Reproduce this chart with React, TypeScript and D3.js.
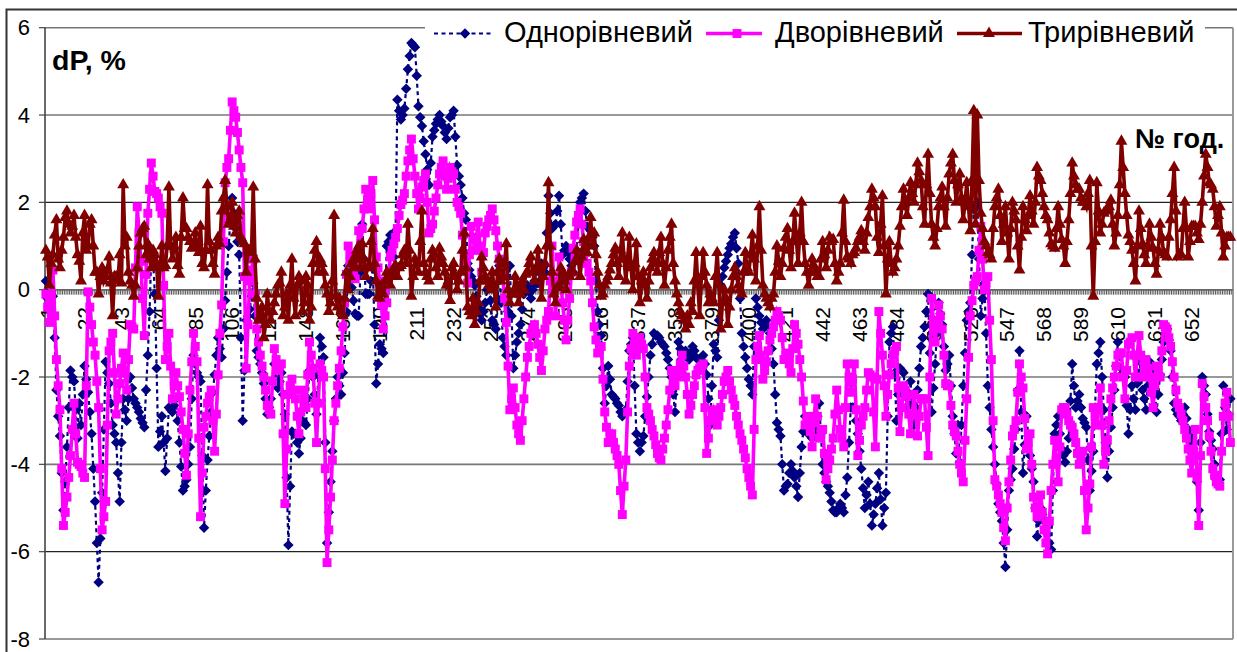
import React from "react";
import * as d3 from "d3";

const WIDTH = 1237;
const HEIGHT = 652;

const hours = d3.range(1, 677);
const tickHours = d3.range(1, 653, 21);
const yTicks = [6, 4, 2, 0, -2, -4, -6, -8];

// readings at hours 1, 3, 5 ...
const oneLevelOdd = [
  0.2, -0.35, -0.15, -2.3, -3.35, -5.05, -3.6, -1.85, -2.1, -3.4,
  -3.1, -1.75, -2.35, -3.3, -4.85, -6.7, -4.65, -1.65, -2.15, -3.1,
  -3.5, -4.85, -2.5, -3, -2, -2.5, -2.7, -2.95, -3.15, -1.5,
  0.9, -0.1, -3.6, -2.9, -4.15, -2.7, -2.8, -2.5, -3.5, -4.6,
  -4.35, -3.6, -1.5, -1.9, -2.1, -5.45, -3.9, -2.8, -1.95, -1.1,
  -1.55, -0.25, 1.0, 2.1, 1.4, 0.8, -3.0, -0.7, -0.45, 0.15,
  -1.4, -1.7, -2.15, -2.85, -2.5, -1.7, -2.25, -1.9, -2.85, -5.85,
  -3.25, -3.3, -3.75, -3, -3.1, -1.85, -2, -2.85, -1.1, -1.55,
  -5.8, -4.4, -3, -2, -2.4, -1.45, 0.55, 0.05, -0.55, -0.6,
  1.5, -0.1, -0.1, 0.5, -2.15, -1.25, -1.45, 1.0, 1.25, 0.75,
  4.35, 3.9, 4.15, 5.05, 5.65, 5.55, 4.2, 3.75, 3.1, 2.4,
  3.5, 3.8, 4, 3.75, 3.45, 3.95, 4.1, 2.85, 2.4, 1.75,
  0.6, 0.3, 0.1, -0.4, -0.7, -0.3, 0.2, -0.7, -0.9, 0.55,
  -1.1, -1.5, 0.55, -1.8, -1.2, -0.8, -0.1, 0.1, -0.2, 0.2,
  0.15, 0.6, 0.4, 2.15, 1.4, 1.5, 2.15, 0.8, 1.0, 0.7,
  0.4, 0.9, 2.0, 2.2, 1.45, 1.35, 1.0, -0.5, -1.05, -2.6,
  -1.75, -2.4, -2.5, -2.65, -2.9, -2.75, -1.4, -1.1, -3.3, -3.7,
  -3.35, -2.45, -1.5, -1, -1.05, -1.2, -1.3, -1.6, -2, -2.8,
  -1.2, -1.5, -1.4, -1.6, -1.3, -1.55, -1.6, -1.5, -1.95, -3.1,
  -1.25, -1.55, 0.1, 0.5, 0.8, 1.05, 1.3, 0.6, -1, -1.55,
  -2.05, -2.4, -0.2, -0.6, -0.9, -0.7, -1, -1.7, -3.05, -3.35,
  -4.6, -4.45, -4, -4.3, -4.75, -3.6, -2.9, -3.3, -3.4, -3.2,
  -2.6, -4.0, -4.4, -4.65, -5.05, -5.1, -4.9, -5.1, -4.3, -2.7,
  -2.7, -3.3, -4.1, -5, -4.4, -5.4, -4.9, -4.2, -5.4, -4.65,
  -1.2, -0.85, -3, -1.8, -1.9, -2.7, -2.1, -3.1, -2.3, -1.3,
  -0.85, -0.1, -2.8, -1.7, -0.3, -0.8, -1.85, -1.5, -2.9, -3.75,
  -3.95, -2.2, -0.7, -0.3, 1.85, 2.0, -0.6, 0.15, -2.2, -3.2,
  -4, -4.9, -5.3, -6.35, -4.6, -4.1, -3.2, -1.4, -4.2, -2.9,
  -3.8, -4.4, -5.65, -5.0, -5.3, -5.6, -5.95, -3.3, -2.9, -3.65,
  -3.95, -3.4, -1.7, -2.7, -2.4, -2.95, -3.15, -4.6, -3.7, -1.7,
  -1.2, -2.75, -4.3, -3.15, -2.3, -1.2, -1.8, -2, -3.3, -2.2,
  -2.75, -1.55, -2.3, -2.75, -1.65, -1.8, -2.8, -1.95, -1.2, -0.9,
  -1.4, -2.6, -2.85, -3, -2.7, -3.2, -3.5, -3.8, -5.05, -2,
  -2.4, -3.25, -3.65, -4.35, -4.35, -2.2, -3.2, -2.5,
];

// readings at hours 2, 4, 6 ...
const oneLevelEven = [
  -0.2, -0.3, -1.1, -2.9, -4.2, -4.4, -2.7, -2.0, -2.75, -2.6,
  -2.4, -2.05, -2.8, -4.1, -5.8, -5.7, -3.2, -1.9, -2.6, -3.3,
  -4.2, -3.5, -2.75, -2.5, -2.25, -2.6, -2.8, -3.05, -2.3, -0.5,
  0.7, -1.8, -3.25, -3.5, -3.4, -2.75, -2.65, -3, -4.05, -4.5,
  -4, -2.5, -1.7, -2.0, -3.8, -4.6, -3.35, -2.35, -1.5, -1.35,
  -0.9, 0.4, 1.6, 1.75, 1.1, -1.1, -1.85, -0.6, -0.15, -0.6,
  -1.55, -1.9, -2.5, -2.7, -2.1, -2, -2.1, -2.4, -4.3, -4.5,
  -3.3, -3.5, -3.4, -3.05, -2.5, -1.95, -2.4, -1.95, -1.3, -3.5,
  -5.1, -3.7, -2.5, -2.2, -1.9, -0.5, 0.3, -0.25, -0.6, 0.4,
  0.7, -0.1, 0.2, -0.8, -1.7, -1.35, -0.3, 1.1, 1.0, 1.35,
  4.1, 4.0, 4.6, 5.35, 5.6, 4.9, 3.95, 3.4, 2.75, 2.9,
  3.65, 3.9, 3.85, 3.6, 3.7, 4.0, 3.5, 2.6, 2.1, 1.6,
  0.45, 0.2, -0.15, -0.55, -0.5, 0.0, -0.25, -0.8, -0.2, -0.3,
  -1.3, -0.5, -0.6, -1.5, -1.0, -0.45, 0.0, -0.05, 0.0, 0.15,
  0.4, 0.5, 1.3, 1.75, 1.45, 1.8, 1.5, 0.9, 0.85, 0.55,
  0.65, 1.5, 2.1, 1.8, 1.4, 1.2, 0.2, -0.8, -1.8, -2.2,
  -2.05, -2.45, -2.6, -2.8, -2.8, -2.1, -1.25, -2.2, -3.5, -3.5,
  -2.9, -2.0, -1.25, -1.05, -1.1, -1.25, -1.45, -1.8, -2.4, -2.0,
  -1.35, -1.45, -1.5, -1.45, -1.4, -1.6, -1.55, -1.7, -2.5, -2.2,
  -1.4, -0.7, 0.3, 0.65, 0.95, 1.2, 0.95, -0.2, -1.3, -1.8,
  -2.2, -1.3, -0.4, -0.75, -0.8, -0.85, -1.35, -2.4, -3.2, -4,
  -4.5, -4.2, -4.15, -4.5, -4.2, -3.25, -3.1, -3.35, -3.3, -2.9,
  -3.3, -4.2, -4.5, -4.85, -5.1, -5, -5, -4.7, -3.5, -2.7,
  -3, -3.7, -4.55, -4.7, -4.9, -5.15, -4.55, -4.8, -5, -2.9,
  -1, -1.9, -2.4, -1.85, -2.3, -2.4, -2.6, -2.7, -1.8, -1.1,
  -0.5, -1.45, -2.25, -1, -0.55, -1.3, -1.7, -2.2, -3.3, -3.1,
  -3.1, -1.45, -0.5, 0.8, 1.9, 0.7, -0.2, -1, -2.7, -3.6,
  -4.45, -5.1, -5.8, -5.5, -4.35, -3.65, -2.3, -2.8, -3.55, -3.35,
  -4.1, -5, -5.3, -5.15, -5.45, -5.8, -4.6, -3.1, -3.3, -3.8,
  -3.7, -2.55, -2.2, -2.55, -2.7, -3.05, -3.9, -4.15, -2.7, -1.45,
  -2, -3.5, -3.7, -2.7, -1.75, -1.5, -1.9, -2.65, -2.75, -2.5,
  -2.15, -1.9, -2.5, -2.2, -1.7, -2.3, -2.4, -1.6, -1, -1.15,
  -2, -2.75, -2.9, -2.85, -2.95, -3.35, -3.65, -4.4, -3.5, -2.2,
  -2.85, -3.45, -4, -4.35, -3.3, -2.7, -2.85,
];

const twoLevelOdd = [
  -0.1, -0.75, 0.45, -1.6, -2.75, -5.4, -4.75, -3.8, -2.6, -3.95,
  -4.05, -4.3, -0.05, -0.8, -1.5, -2.7, -5.5, -4.85, -1.4, -1.0,
  -2.85, -2.15, -1.45, -2.3, -0.8, -0.9, 1.9, 0.65, -1.05, 1.75,
  2.9, 2.25, 2.1, 1.75, -1.6, -1, -2.5, -1.9, -2.45, -3.2,
  -4.25, -2.3, -1, -1.65, -5.2, -3.15, -2.6, -2.3, -3.7, -1.95,
  -0.35, 2.45, 3.0, 4.3, 3.95, 3.2, 2.45, -1.8, 0.2, 0.7,
  -0.9, -1.5, -2.0, -2.65, -2.85, -1.35, -1.85, -1.7, -4.9, -2.4,
  -2.05, -2.5, -3.3, -2.3, -2.7, -1.2, -1.8, -3.5, -1.7, -2.0,
  -6.25, -4.75, -3, -2.2, -1.4, -0.3, 1.0, 0.6, 0.25, 1.35,
  1.4, 2.3, 1.85, 2.5, 0.75, 0.2, -0.9, -0.3, 0.75, 1.05,
  1.4, 1.95, 2.2, 2.95, 3.45, 2.6, 1.85, 2.35, 2.65, 1.3,
  1.5, 2.1, 2.65, 2.95, 2.3, 2.8, 2.65, 2.0, 1.75, 0.75,
  0.15, 1.45, 0.9, 1.55, 0.4, 1.3, 1.6, 1.85, 1.35, 0.7,
  0.3, -0.75, -2.75, -2.25, -3.1, -3.45, -2.5, -1.55, -1.0, -0.8,
  -1.25, -1.85, -0.9, -0.5, 1.0, -0.6, 0.75, -0.3, -1.15, -0.2,
  0.95, 1.55, 1.85, 1.1, 0.6, 0.2, -0.85, -1.45, -1.3, -2.8,
  -3.5, -3.3, -3.65, -4, -5.15, -3.9, -1.75, -1.0, -1.5, -1.1,
  -1.35, -2.7, -3, -3.35, -3.75, -3.9, -3.4, -2.75, -1.85, -2.2,
  -1.85, -1.5, -2, -2.85, -2.4, -1.95, -1.8, -1.7, -3.75, -3.0,
  -2.75, -3.1, -2.7, -2.1, -1.85, -2.3, -2.65, -3.1, -3.45, -3.85,
  -4.3, -4.7, -1.6, -1.05, -2.05, -1.65, -1.15, -0.85, -0.5, -0.7,
  -1.6, -1.45, -1.9, -0.8, -1.25, -2.0, -3.1, -2.9, -3.6, -2.5,
  -3.4, -3.2, -4.35, -3.9, -3.4, -2.3, -3.2, -3.6, -1.7, -2.35,
  -1.7, -3.8, -3.1, -2.7, -1.9, -2, -3.6, -0.5, -1.5, -2.9,
  -1.95, -1.5, -1.3, -3.25, -2.2, -2.45, -3.3, -2.4, -3.35, -2.5,
  -2.5, -3.8, -0.2, -1.2, -0.35, -0.9, -2.15, -2.2, -3.1, -3.35,
  -4.0, -4.4, -2.5, -0.6, 0.1, 0.3, 1.45, 0.0, 0.3, -1.6,
  -4.35, -4.7, -5.1, -5.75, -4.4, -3.35, -3.0, -1.7, -2.25, -3.65,
  -3.3, -4.75, -5.2, -4.7, -5.5, -6.05, -4.6, -3.45, -4.4, -2.75,
  -2.7, -3.0, -3.15, -3.5, -4, -3.7, -5.5, -4.45, -2.7, -3.1,
  -2.25, -4, -3.45, -2.5, -2, -1.5, -1.45, -2.5, -1.25, -1.1,
  -2, -1.05, -2, -1.6, -2, -2.7, -1.75, -2, -0.8, -0.9,
  -1.3, -2, -2.6, -2.85, -3.2, -3.65, -4.2, -3.2, -5.4, -2.15,
  -2.7, -3.35, -4.1, -4.4, -4.5, -2.9, -2.35, -3.5,
];

const twoLevelEven = [
  -0.4, -0.2, -0.6, -2.2, -4.1, -5.1, -4.3, -3.2, -3.3, -4,
  -4.2, -2.2, -0.4, -1.2, -2.1, -4.1, -5.2, -3.1, -1.2, -1.9,
  -2.5, -1.8, -1.9, -1.6, -0.85, 0.5, 1.3, -0.2, 0.35, 2.3,
  2.6, 2.2, 1.9, 0.1, -1.3, -1.75, -2.2, -2.2, -2.8, -3.75,
  -3.3, -1.65, -1.3, -3.4, -4.2, -2.9, -2.45, -3, -2.85, -1.0,
  1.1, 2.8, 3.65, 4.1, 3.6, 2.8, 0.3, -0.8, 0.45, -0.1,
  -1.2, -1.75, -2.3, -2.75, -2.1, -1.6, -1.75, -3.3, -3.65, -2.2,
  -2.3, -2.9, -2.8, -2.5, -1.95, -1.5, -2.6, -2.6, -1.85, -4.1,
  -5.5, -3.9, -2.6, -1.8, -0.85, 0.35, 0.8, 0.4, 0.8, 0.9,
  1.85, 2.05, 2.2, 1.6, 0.5, -0.35, -0.6, 0.2, 0.9, 1.2,
  1.7, 2.05, 2.6, 3.2, 3.0, 2.2, 2.1, 2.5, 2.0, 1.4,
  1.8, 2.4, 2.8, 2.6, 2.55, 2.7, 2.3, 1.9, 1.25, 0.45,
  0.8, 1.2, 1.2, 1.0, 0.85, 1.45, 1.7, 1.6, 1.0, 0.5,
  -0.2, -1.75, -2.5, -2.7, -3.3, -3.0, -2.0, -1.3, -0.9, -1.0,
  -1.55, -1.4, -0.7, 0.2, 0.2, 0.1, 0.2, -0.7, -0.7, 0.4,
  1.25, 1.7, 1.5, 0.85, 0.4, -0.3, -1.15, -1.4, -2.05, -3.15,
  -3.4, -3.5, -3.8, -4.6, -4.5, -2.8, -1.35, -1.25, -1.3, -1.25,
  -2.0, -2.85, -3.2, -3.55, -3.85, -3.65, -3.1, -2.3, -2.0, -2.0,
  -1.7, -1.75, -2.4, -2.65, -2.2, -1.85, -1.75, -2.7, -3.4, -2.9,
  -2.9, -2.9, -2.4, -2, -2.1, -2.5, -2.9, -3.3, -3.65, -4.1,
  -4.5, -3.2, -1.3, -1.5, -1.85, -1.4, -1.0, -0.7, -0.6, -1.1,
  -1.5, -1.7, -1.35, -1, -1.6, -2.55, -3, -3.25, -3.05, -2.9,
  -3.3, -3.75, -4.1, -3.65, -2.85, -2.75, -3.4, -2.7, -2, -2.05,
  -2.75, -3.45, -2.9, -2.3, -1.95, -2.8, -2.05, -1, -2.2, -2.4,
  -1.7, -1.4, -2.25, -2.7, -2.3, -2.85, -2.85, -2.85, -2.9, -2.5,
  -3.15, -2.0, -0.7, -0.8, -0.6, -1.5, -2.2, -2.65, -3.25, -3.7,
  -4.2, -3.45, -1.55, -0.25, 0.2, 0.9, 0.7, 0.15, -0.7, -3.0,
  -4.5, -4.9, -5.45, -5, -3.9, -3.2, -2.35, -2, -2.95, -3.5,
  -4, -5, -4.95, -5.1, -5.8, -5.3, -4, -3.9, -3.6, -2.7,
  -2.85, -3.1, -3.3, -3.75, -3.85, -4.6, -5, -3.6, -2.9, -2.7,
  -3.1, -3.7, -3, -2.25, -1.75, -1.45, -2, -1.85, -1.2, -1.5,
  -1.5, -1.5, -1.8, -1.8, -2.35, -2.2, -1.85, -1.4, -0.85, -1.1,
  -1.65, -2.3, -2.7, -3, -3.4, -3.9, -3.7, -4.3, -3.8, -2.45,
  -3, -3.7, -4.25, -4.45, -3.7, -2.6, -2.9,
];

const threeLevelOdd = [
  0.9, 0.1, 0.8, 1.6, 0.5, 1.2, 1.8, 1.3, 1.7, 0.8,
  0.2, 1.7, 1.0, 1.6, 0.4, -0.1, 0.5, 0.3, 0.75, -0.6,
  0.3, 0.8, 2.4, 1.2, 0.2, -0.15, 0.5, 1.3, 1.45, 1.05,
  0.5, 0.8, -0.15, 1.0, 0.55, 2.35, 0.7, 1.2, 0.35, 2.1,
  1.4, 1.1, 1.0, 1.0, 1.45, 0.5, 2.4, 0.9, 0.35, 1.2,
  1.8, 2.5, 1.5, 2.0, 1.3, 1.8, 1.1, 0.4, 0.9, 2.35,
  -0.2, -0.6, -1.1, -0.1, -0.7, -0.3, 0.1, 0.4, -0.4, -0.7,
  0.7, -0.6, 0.3, -0.5, 0.3, -0.7, 0.6, 1.1, 0.7, 0.4,
  -0.1, -0.3, 1.7, -0.4, -0.5, -0.2, 0.0, 0.6, 0.5, 1.0,
  1.05, 0.3, 0.5, 1.4, 0.2, -0.2, -0.1, 0.4, 0.1, 0.5,
  0.3, 0.55, 0.9, 1.5, -0.15, 0.7, 0.4, 1.8, 0.4, 0.2,
  0.9, 0.5, 0.95, 0.6, 0.1, -0.25, 0.6, 0.0, 0.4, 1.3,
  -0.4, -0.6, -0.8, -0.3, 0.75, 0.3, 0.1, 0.4, -0.4, 0.7,
  0.3, 1.05, -0.3, -0.1, 0.1, -0.1, 0.0, 0.4, 0.75, 0.2,
  0.9, -0.2, 0.6, 2.45, 0.4, -0.3, 0.1, 0.4, 0.0, 0.3,
  0.4, 0.9, 0.3, 1.15, 0.85, 1.65, 1.3, 0.4, -0.15, 0.1,
  0.3, 0.6, 0.95, 0.3, 1.3, 0.2, 1.2, 0.0, 1.05, -0.3,
  0.4, -0.2, 0.5, 0.85, 0.4, 1.2, 0.1, 0.9, 1.5, 0.2,
  -0.3, -0.6, -0.9, -0.8, -0.5, 0.85, -0.6, 0.85, 0.1, -0.1,
  -0.3, 0.85, -0.9, 0.0, -0.8, 0.0, 0.5, 0.1, -0.1, 0.85,
  0.4, 1.25, 0.2, 1.9, 0.1, -0.2, -0.4, -0.1, 1.0, 0.3,
  0.95, 1.4, 0.5, 1.75, 0.6, 2.0, 0.6, 0.1, 0.7, 0.4,
  0.3, 1.1, 0.5, 1.2, 1.15, 0.2, 0.6, 2.05, 0.75, 0.6,
  0.85, 1.1, 1.35, 0.9, 1.65, 2.3, 1.9, 0.85, 2.15, -0.1,
  1.1, 0.4, 0.7, 1.45, 2.3, 1.7, 2.45, 2.0, 2.9, 2.5,
  1.5, 3.1, 1.5, 1.0, 1.9, 2.35, 1.45, 2.65, 3.1, 2.0,
  2.65, 1.6, 2.45, 1.35, 4.1, 4.0, 1.75, 1.1, 0.85, 0.7,
  1.9, 2.3, 1.1, 1.9, 0.7, 2.0, 1.6, 0.45, 1.9, 1.35,
  2.15, 1.5, 2.8, 2.5, 1.9, 1.6, 1.05, 0.95, 1.9, 1.15,
  0.6, 1.6, 2.9, 2.4, 2.3, 2.0, 1.9, 2.5, -0.15, 2.45,
  1.3, 1.75, 1.85, 2.05, 1.0, 1.7, 3.4, 2.2, 1.25, 0.9,
  0.2, 1.8, 1.05, 0.6, 1.5, 0.95, 0.35, 1.5, 0.85, 0.75,
  1.6, 2.8, 0.75, 0.8, 2.0, 0.75, 1.45, 1.45, 1.15, 2.0,
  3.1, 2.45, 2.3, 1.45, 1.9, 0.75, 1.2, 1.2,
];

const threeLevelEven = [
  0.75, 0.6, 1.25, 0.7, 0.9, 1.65, 1.5, 1.45, 1.2, 0.65,
  1.3, 0.9, 1.5, 1.0, 0.4, 0.3, 0.2, 0.45, 0.15, 0.3,
  0.2, 0.15, 1.0, 0.4, 0.1, 0.1, 1.0, 1.4, 0.8, 0.7,
  0.9, 0.6, 0.55, 0.5, 1.0, 1.0, 1.0, 0.55, 1.2, 1.4,
  1.2, 0.95, 1.3, 0.85, 0.6, 0.9, 1.1, 0.6, 1.0, 1.05,
  2.1, 1.9, 1.6, 1.45, 1.7, 1.2, 1.05, 0.9, 0.85, 0.7,
  -0.7, -0.4, -0.8, -0.5, -0.5, -0.1, 0.15, -0.6, -0.1, 0.1,
  -0.2, 0.1, 0.2, -0.3, 0.1, -0.4, 0.9, 0.4, 0.6, 0.1,
  -0.5, 0.2, -0.15, -0.2, -0.6, 0.4, 0.3, 0.7, 0.9, 0.5,
  0.7, 0.5, 1.1, 0.6, -0.15, 0.1, 0.2, 0.3, 0.35, 0.55,
  0.5, 0.8, 0.6, 0.9, 0.3, 0.6, 1.1, 0.6, 0.3, 0.7,
  0.8, 0.3, 0.75, 0.4, 0.2, 0.5, 0.3, 0.2, 0.9, 0.5,
  -0.5, -0.2, -0.5, 0.2, 0.5, 0.2, 0.0, 0.1, 0.4, 0.2,
  0.6, 0.0, -0.1, 0.3, -0.3, 0.2, 0.35, 0.6, 0.4, 0.5,
  0.5, 0.3, 1.0, 1.0, -0.1, 0.05, 0.5, 0.2, 0.3, 0.45,
  0.65, 0.7, 0.75, 1.0, 1.2, 1.0, 0.8, 0.1, -0.1, 0.2,
  0.45, 0.8, 0.6, 0.9, 0.7, 0.7, 0.5, 0.6, 0.3, 0.2,
  0.1, 0.2, 0.7, 0.6, 0.85, 0.6, 0.5, 1.2, 0.6, -0.1,
  -0.5, -0.7, -0.6, -0.3, 0.2, 0.1, 0.3, 0.4, -0.3, -0.2,
  0.3, 0.1, -0.3, -0.2, -0.4, 0.3, 0.3, 0.0, 0.4, 0.5,
  0.8, 0.7, 1.0, 0.9, -0.1, -0.3, -0.2, 0.4, 0.65, 0.6,
  1.2, 0.9, 1.1, 1.2, 1.3, 1.1, 0.4, 0.4, 0.55, 0.3,
  0.7, 0.8, 0.9, 1.1, 0.6, 0.4, 1.3, 1.1, 0.7, 0.8,
  0.95, 1.2, 1.1, 1.3, 1.9, 2.1, 1.2, 1.5, 1.0, 0.7,
  0.6, 0.5, 1.0, 1.9, 2.0, 2.1, 2.2, 2.4, 2.7, 1.9,
  2.4, 2.2, 1.2, 1.4, 2.1, 1.9, 2.1, 2.9, 2.5, 2.4,
  2.1, 2.0, 1.9, 2.5, 1.5, 2.5, 1.4, 1.0, 0.8, 1.4,
  2.1, 1.7, 1.5, 1.3, 1.4, 1.8, 1.0, 1.2, 1.6, 1.7,
  1.8, 2.0, 2.6, 2.2, 1.7, 1.3, 1.0, 1.4, 1.5, 1.0,
  1.1, 2.2, 2.6, 2.3, 2.1, 2.0, 2.2, 1.0, 1.1, 1.8,
  1.5, 1.8, 1.9, 1.5, 1.3, 2.4, 2.8, 1.7, 1.1, 0.6,
  1.0, 1.4, 0.8, 1.0, 1.2, 0.6, 0.9, 1.2, 0.8, 1.2,
  2.2, 1.8, 0.8, 1.4, 1.4, 1.1, 1.45, 1.3, 1.5, 2.6,
  2.8, 2.4, 1.9, 1.7, 1.3, 1.0, 1.2,
];

const seriesNames = ["Однорівневий", "Дворівневий", "Трирівневий"];

const FONT = "'Liberation Sans', Arial, sans-serif";

const x = d3.scaleBand<number>().domain(hours).range([45, 1233]);
const y = d3.scaleLinear().domain([-8, 6]).range([639, 27.7]);
const cx = (h: number) => (x(h) as number) + x.bandwidth() / 2;

// put the odd and even hour readings back in hour order
const toPoints = (odd: number[], even: number[]) =>
  d3
    .merge<number>(odd.map((v, i) => (i < even.length ? [v, even[i]] : [v])))
    .map((v, i) => [hours[i], v] as [number, number]);

const linePath = d3
  .line<[number, number]>()
  .x((d) => cx(d[0]))
  .y((d) => y(d[1]));

const diamond = d3.symbol().type(d3.symbolDiamond2).size(70)() as string;
const square = d3.symbol().type(d3.symbolSquare).size(80)() as string;
const triangle = d3.symbol().type(d3.symbolTriangle).size(62)() as string;

const styles = [
  { points: toPoints(oneLevelOdd, oneLevelEven), color: "#000080", width: 2.2, dash: "4 3.5", marker: diamond },
  { points: toPoints(twoLevelOdd, twoLevelEven), color: "#FF00FF", width: 3.6, dash: undefined, marker: square },
  { points: toPoints(threeLevelOdd, threeLevelEven), color: "#800000", width: 3.6, dash: undefined, marker: triangle },
];

const legendItems = [
  { lineFrom: 434, lineTo: 494, mark: 465, textX: 504 },
  { lineFrom: 706, lineTo: 762, mark: 737, textX: 775 },
  { lineFrom: 957, lineTo: 1022, mark: 989, textX: 1028 },
];

export default function App() {
  return (
    <svg
      width={WIDTH}
      height={HEIGHT}
      style={{ position: "absolute", left: 0, top: 0, background: "#fff" }}
      fontFamily={FONT}
    >
      {/* frame of the pasted picture */}
      <path d="M6.5 652V9.5H1237" fill="none" stroke="#333" strokeWidth={2} />

      {/* grid */}
      {yTicks.map((t) => (
        <line
          key={t}
          x1={45}
          x2={1233}
          y1={y(t)}
          y2={y(t)}
          stroke={t === 2 || t === -6 ? "#222" : "#777"}
          strokeWidth={t === 2 || t === -6 ? 1.2 : 1.6}
        />
      ))}
      <path
        d={`M45 ${y(6)}V${y(-8)}`}
        stroke="#444"
        strokeWidth={1.6}
        fill="none"
      />
      <line x1={1233} x2={1233} y1={y(6)} y2={y(-8)} stroke="#999" strokeWidth={2} />

      {/* y axis */}
      {yTicks.map((t) => (
        <g key={t}>
          <line x1={39} x2={45} y1={y(t)} y2={y(t)} stroke="#444" strokeWidth={1.2} />
          <text x={30} y={y(t) + 7.5} fontSize={22} textAnchor="end" fill="#000">
            {t}
          </text>
        </g>
      ))}

      {/* x axis: a tick per hour, a label per 21 hours */}
      {hours.map((h) => (
        <line
          key={h}
          x1={x(h) as number}
          x2={x(h) as number}
          y1={y(0)}
          y2={y(0) + 5}
          stroke="#555"
          strokeWidth={1}
        />
      ))}
      <line x1={45} x2={1233} y1={y(0)} y2={y(0)} stroke="#666" strokeWidth={1.6} />
      {tickHours.map((h) => (
        <text
          key={h}
          transform={`translate(${cx(h) + 9},307) rotate(-90)`}
          fontSize={21}
          textAnchor="end"
          fill="#000"
        >
          {h}
        </text>
      ))}

      {/* series */}
      {styles.map((s, k) => (
        <g key={k}>
          <path
            d={linePath(s.points) as string}
            fill="none"
            stroke={s.color}
            strokeWidth={s.width}
            strokeDasharray={s.dash}
          />
          {s.points.map((p) => (
            <path
              key={p[0]}
              d={s.marker}
              transform={`translate(${cx(p[0])},${y(p[1])})`}
              fill={s.color}
            />
          ))}
        </g>
      ))}

      {/* legend */}
      <rect x={425} y={17} width={780} height={24} fill="#fff" />
      {legendItems.map((item, i) => (
        <g key={i}>
          <line
            x1={item.lineFrom}
            x2={item.lineTo}
            y1={33.5}
            y2={33.5}
            stroke={styles[i].color}
            strokeWidth={styles[i].width}
            strokeDasharray={styles[i].dash}
          />
          <path
            d={styles[i].marker}
            transform={`translate(${item.mark},33.5)`}
            fill={styles[i].color}
          />
          <text x={item.textX} y={41.5} fontSize={29} fill="#000">
            {seriesNames[i]}
          </text>
        </g>
      ))}

      <text x={52} y={70} fontSize={28.5} fontWeight="bold" fill="#000">
        dP, %
      </text>
      <text x={1135} y={148} fontSize={27} fontWeight="bold" fill="#000">
        № год.
      </text>
    </svg>
  );
}
